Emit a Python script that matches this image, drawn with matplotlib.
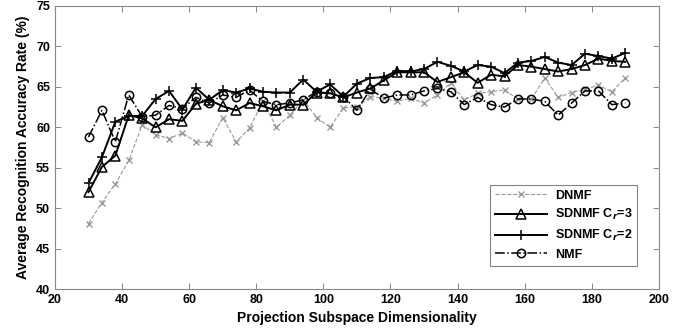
import numpy as np
import matplotlib
matplotlib.use('Agg')
import matplotlib.pyplot as plt

plt.rcParams['font.family'] = ['Liberation Sans', 'DejaVu Sans']
plt.rcParams['font.weight'] = 'bold'

# projection dimensions
dims = list(range(30, 191, 4))

# recognition rates (%)
dnmf = [48.1, 50.7, 53.0, 55.9, 60.3, 59.1, 58.6, 59.3, 58.2, 58.1, 61.2,
        58.2, 59.9, 63.2, 60.0, 61.5, 63.4, 61.2, 60.0, 62.4, 62.5, 63.8,
        63.6, 63.2, 63.6, 63.0, 64.0, 65.5, 63.4, 64.2, 64.4, 64.6, 63.5,
        63.5, 66.1, 63.7, 64.3, 64.7, 65.2, 64.4, 66.1]
sdnmf_cr3 = [52.0, 55.1, 56.5, 61.5, 61.1, 60.0, 61.0, 60.8, 62.9, 63.4, 62.6,
             62.1, 63.0, 62.6, 62.1, 62.8, 62.8, 64.3, 64.2, 63.7, 64.3, 64.8,
             65.8, 66.8, 66.8, 66.8, 65.6, 66.2, 66.8, 65.5, 66.5, 66.3, 67.7,
             67.5, 67.2, 66.9, 67.2, 67.7, 68.5, 68.2, 68.1]
sdnmf_cr2 = [53.1, 56.3, 60.7, 61.4, 61.4, 63.5, 64.5, 62.2, 64.9, 63.4, 64.6,
             64.3, 64.8, 64.4, 64.3, 64.3, 65.9, 64.4, 65.3, 63.8, 65.4, 66.1,
             66.2, 67.0, 66.9, 67.2, 68.1, 67.6, 66.9, 67.7, 67.5, 66.7, 68.0,
             68.2, 68.7, 68.0, 67.7, 69.1, 68.8, 68.5, 69.2]
nmf = [58.8, 62.1, 58.2, 64.0, 61.3, 61.5, 62.7, 62.3, 63.7, 63.0, 64.0,
       63.7, 64.6, 63.2, 62.8, 63.0, 63.4, 64.4, 64.2, 63.8, 62.1, 64.7,
       63.6, 64.0, 64.0, 64.5, 64.8, 64.4, 62.8, 63.7, 62.8, 62.5, 63.5,
       63.5, 63.2, 61.5, 63.0, 64.5, 64.5, 62.8, 63.0]

fig = plt.figure(figsize=(6.87, 3.33), dpi=100)
ax = fig.add_axes([0.080, 0.132, 0.879, 0.850])

ax.plot(dims, dnmf, color='#999999', ls='--', lw=0.8, marker='x',
        ms=4, mew=1.0, label='DNMF')
ax.plot(dims, sdnmf_cr3, color='black', ls='-', lw=1.4, marker='^',
        ms=7, mfc='none', mew=1.1, label='SDNMF C$_r$=3')
ax.plot(dims, sdnmf_cr2, color='black', ls='-', lw=1.4, marker='+',
        ms=7, mew=1.1, label='SDNMF C$_r$=2')
ax.plot(dims, nmf, color='black', ls='-.', lw=1.1, marker='o',
        ms=6, mfc='none', mew=1.1, label='NMF')

ax.set_xlim(20, 200)
ax.set_ylim(40, 75)
ax.set_xticks(range(20, 201, 20))
ax.set_yticks(range(40, 76, 5))
ax.tick_params(direction='in', top=True, right=True, labelsize=9,
               length=4, width=0.6, color='#777777')
for sp in ax.spines.values():
    sp.set_color('#888888')
    sp.set_linewidth(0.8)

ax.set_xlabel('Projection Subspace Dimensionality', fontsize=10, fontweight='bold')
ax.set_ylabel('Average Recognition Accuracy Rate (%)', fontsize=10, fontweight='bold')

leg = ax.legend(loc='lower right', fontsize=9, frameon=True, fancybox=False,
                edgecolor='#666666', borderpad=0.4, labelspacing=0.45,
                handlelength=4.2, handletextpad=0.6,
                bbox_to_anchor=(0.975, 0.06))
leg.get_frame().set_linewidth(0.8)

fig.savefig('out.png', dpi=100)
